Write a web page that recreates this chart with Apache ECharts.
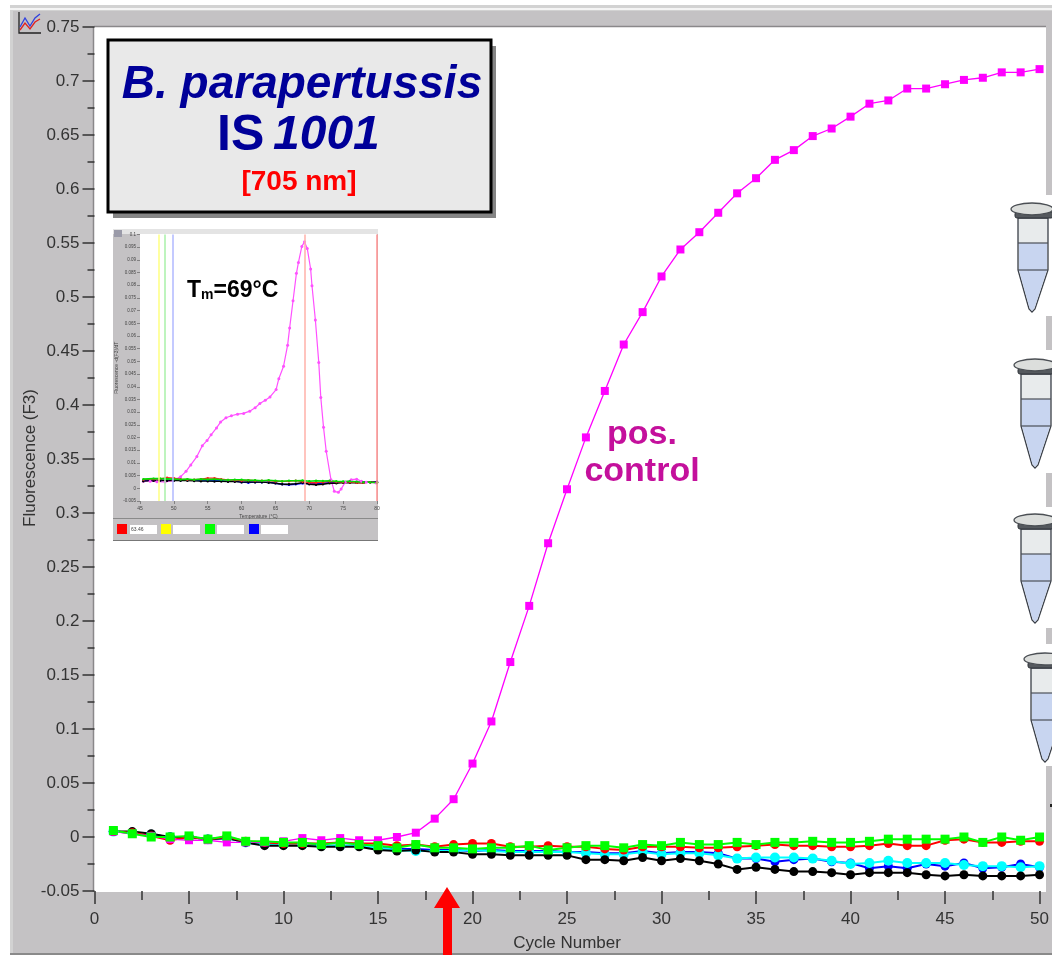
<!DOCTYPE html>
<html><head><meta charset="utf-8">
<style>html,body{margin:0;padding:0;background:#fff;overflow:hidden}#c{width:1052px;height:959px}</style>
<script src="https://cdn.jsdelivr.net/npm/echarts@6/dist/echarts.min.js"></script>
</head><body><div id="c"></div>
<script>
const cycles=[1,2,3,4,5,6,7,8,9,10,11,12,13,14,15,16,17,18,19,20,21,22,23,24,25,26,27,28,29,30,31,32,33,34,35,36,37,38,39,40,41,42,43,44,45,46,47,48,49,50];
const posControl=[.005,.003,.001,-.002,-.003,-.003,-.005,-.005,-.005,-.004,-.001,-.003,-.001,-.003,-.003,0,.004,.017,.035,.068,.107,.162,.214,.272,.322,.370,.413,.456,.486,.519,.544,.560,.578,.596,.610,.627,.636,.649,.656,.667,.679,.682,.693,.693,.697,.701,.703,.708,.708,.711];
const greenVals=[.006,.003,0,0,.001,-.002,.001,-.004,-.004,-.005,-.005,-.007,-.005,-.007,-.008,-.010,-.007,-.010,-.010,-.011,-.010,-.010,-.008,-.012,-.010,-.008,-.008,-.010,-.007,-.008,-.005,-.007,-.007,-.005,-.007,-.005,-.005,-.004,-.005,-.005,-.004,-.002,-.002,-.002,-.002,0,-.005,0,-.003,0];
const redVals=[.005,.004,.001,-.003,0,-.002,0,-.004,-.005,-.006,-.006,-.006,-.005,-.006,-.006,-.008,-.007,-.009,-.007,-.006,-.006,-.009,-.009,-.008,-.009,-.009,-.011,-.012,-.009,-.009,-.009,-.010,-.010,-.009,-.008,-.007,-.008,-.008,-.009,-.009,-.008,-.006,-.008,-.008,-.003,-.002,-.005,-.005,-.004,-.004];
const blackVals=[.005,.005,.003,0,0,-.002,-.001,-.005,-.008,-.008,-.008,-.009,-.009,-.009,-.012,-.013,-.012,-.014,-.014,-.016,-.016,-.017,-.017,-.017,-.017,-.021,-.021,-.022,-.019,-.022,-.020,-.022,-.025,-.030,-.028,-.030,-.032,-.032,-.033,-.035,-.033,-.033,-.033,-.035,-.036,-.035,-.036,-.036,-.036,-.035];
const blueVals=[.005,.004,.002,0,0,-.002,-.001,-.005,-.007,-.007,-.007,-.008,-.008,-.008,-.010,-.011,-.011,-.012,-.012,-.013,-.012,-.013,-.013,-.013,-.014,-.014,-.015,-.015,-.013,-.015,-.014,-.014,-.015,-.020,-.020,-.023,-.021,-.020,-.023,-.024,-.029,-.027,-.029,-.025,-.027,-.024,-.029,-.028,-.025,-.028];
const cyanVals=[.005,.004,.002,0,0,-.002,-.001,-.005,-.007,-.007,-.007,-.008,-.008,-.008,-.010,-.012,-.013,-.013,-.013,-.012,-.013,-.014,-.014,-.014,-.014,-.015,-.016,-.016,-.014,-.016,-.015,-.015,-.017,-.020,-.019,-.019,-.019,-.020,-.022,-.025,-.024,-.022,-.024,-.024,-.024,-.026,-.027,-.027,-.028,-.027];
const meltTemp=[45.5,46.5,47.5,48.7,49.9,51.0,51.8,52.5,53.4,54.2,54.9,55.5,56.3,56.9,57.7,58.5,59.4,60.3,61.2,62.0,62.7,63.5,64.2,65.1,65.5,66.2,66.8,67.1,67.6,68.1,68.4,68.9,69.3,69.7,70.2,70.4,70.9,71.4,71.7,72.1,72.5,73.2,73.7,74.3,74.7,75.3,76.2,77.0,77.7,78.4,79.9];
const meltPos=[.0028,.0028,.0026,.0025,.0030,.0046,.0067,.0092,.0125,.0168,.0188,.0211,.0238,.0261,.0278,.0286,.0292,.0295,.0304,.0317,.0334,.0347,.0360,.0389,.0432,.0481,.0564,.0632,.0739,.0847,.0890,.0953,.0971,.0945,.0864,.0798,.0663,.0496,.0358,.0241,.0146,.0034,-.0012,-.0016,-.0003,.0024,.0034,.0036,.0028,.0024,.0021];
const meltFlatTemp=[45.5,47,48,49,50,51,52,53,54,55,56,57,58,59,60,61,62,63,64,65,66,67,68,69,70,71,72,73,74,75,76,77,78,79,80];
const meltGreen=[.0036,.0038,.0038,.0037,.0036,.0035,.0036,.0034,.0036,.0035,.0036,.0034,.0033,.0034,.0034,.0032,.0032,.0030,.0032,.0030,.0028,.0030,.0030,.0031,.0028,.0030,.0029,.0030,.0028,.0027,.0028,.0026,.0024,.0024,.0022];
const meltRed=[.0034,.0036,.0037,.0042,.0040,.0036,.0034,.0034,.0036,.0040,.0040,.0036,.0033,.0032,.0030,.0032,.0030,.0030,.0030,.0027,.0027,.0028,.0030,.0026,.0022,.0022,.0024,.0027,.0025,.0024,.0024,.0022,.0022,.0024,.0022];
const meltBlack=[.0028,.0030,.0031,.0030,.0030,.0030,.0030,.0029,.0028,.0028,.0027,.0027,.0026,.0026,.0024,.0025,.0024,.0024,.0022,.0020,.0016,.0016,.0018,.0022,.0016,.0014,.0016,.0020,.0020,.0022,.0022,.0022,.0022,.0024,.0024];
const meltBlue=[.0030,.0032,.0032,.0032,.0032,.0032,.0032,.0031,.0030,.0030,.0030,.0030,.0028,.0028,.0024,.0022,.0024,.0024,.0024,.0020,.0016,.0014,.0016,.0020,.0018,.0018,.0020,.0022,.0024,.0024,.0024,.0024,.0024,.0024,.0026];
const meltMarkers=[47.7,48.7,49.9,69.4,80];
const meltMarkerColors=['#ffff80','#a8f0a8','#b0b8ff','#ffb0a8','#ff9090'];

const zip=(a,b)=>a.map((v,i)=>[v,b[i]]);
const main=(name,vals,color,symbol,size,width)=>({name,type:'line',xAxisIndex:0,yAxisIndex:0,data:zip(cycles,vals),symbol,symbolSize:size,showSymbol:true,clip:false,
  lineStyle:{color,width},itemStyle:{color,opacity:1},animation:false,silent:true});
const melt=(name,xs,vals,color,size,width)=>({name,type:'line',xAxisIndex:1,yAxisIndex:1,data:zip(xs,vals),symbol:'circle',symbolSize:size,showSymbol:true,
  lineStyle:{color,width},itemStyle:{color},animation:false,silent:true,z:3});

const PANEL='#c4c2c4';
function tube(x,y){
  const s={stroke:'#4a4f58',lineWidth:1.2};
  return {type:'group',x,y,z:6,children:[
    {type:'polygon',z:6,shape:{points:[[8,16],[8,68],[19,107],[22,110],[25,107],[38,68],[38,16]]},style:{fill:'#e8ebec',stroke:'#3a3f48',lineWidth:1.3}},
    {type:'polygon',z:6,shape:{points:[[9,41],[37,41],[37,68],[24.5,106],[22,109],[19.5,106],[9,68]]},style:{fill:'#c8d5f0'}},
    {type:'line',z:7,shape:{x1:8,y1:41,x2:38,y2:41},style:s},
    {type:'line',z:7,shape:{x1:8,y1:68,x2:38,y2:68},style:s},
    {type:'rect',z:7,shape:{x:5,y:10,width:38,height:6,r:2},style:{fill:'#55595e',stroke:'#30343a',lineWidth:1}},
    {type:'ellipse',z:8,shape:{cx:22,cy:7,rx:21,ry:6},style:{fill:'#dcdedc',stroke:'#4b4f54',lineWidth:1.3}}
  ]};
}
const wrect=(x,y,w,h,fill,z)=>({type:'rect',z,shape:{x,y,width:w,height:h},style:{fill}});
const graphics=[
  wrect(10,5,1042,950,'#d2d2d2',-20),
  {type:'line',z:-19,shape:{x1:10,y1:9,x2:1052,y2:9},style:{stroke:'#f4f4f4',lineWidth:2}},
  wrect(13,11,1039,942,PANEL,-19),
  {type:'line',z:-19,shape:{x1:10,y1:954,x2:1052,y2:954},style:{stroke:'#8a8a8a',lineWidth:2}},
  wrect(94,27,952,865,'#ffffff',-18),
  {type:'line',z:-18,shape:{x1:94,y1:26.5,x2:1046,y2:26.5},style:{stroke:'#8a888a',lineWidth:1.5}},
  {type:'line',z:-18,shape:{x1:93.5,y1:27,x2:93.5,y2:892},style:{stroke:'#8a888a',lineWidth:1.5}},
  {type:'group',x:17,y:11,z:5,children:[
    {type:'polyline',z:5,shape:{points:[[2,1],[2,22],[24,22]]},style:{stroke:'#222',fill:null,lineWidth:1.3}},
    {type:'polyline',z:5,shape:{points:[[3,16],[8,7],[13,15],[18,7],[23,3]]},style:{stroke:'#3040e0',fill:null,lineWidth:1.3}},
    {type:'polyline',z:5,shape:{points:[[3,19],[8,12],[13,18],[18,11],[23,8]]},style:{stroke:'#e02020',fill:null,lineWidth:1.3}}
  ]},
  wrect(113,46,383,172,'#858585',10),
  {type:'rect',z:11,shape:{x:108,y:40,width:383,height:172},style:{fill:'#e9e9e9',stroke:'#000',lineWidth:3}},
  {type:'text',z:12,x:302,y:85,style:{text:'B. parapertussis',font:'italic bold 46px "Liberation Sans"',fill:'#000099',align:'center',verticalAlign:'middle'}},
  {type:'text',z:12,x:217,y:136,style:{text:'IS',font:'bold 50px "Liberation Sans"',fill:'#000099',align:'left',verticalAlign:'middle'}},
  {type:'text',z:12,x:273,y:136,style:{text:'1001',font:'italic bold 48px "Liberation Sans"',fill:'#000099',align:'left',verticalAlign:'middle'}},
  {type:'text',z:12,x:299,y:182,style:{text:'[705 nm]',font:'bold 28px "Liberation Sans"',fill:'#ff0000',align:'center',verticalAlign:'middle'}},
  {type:'text',z:12,x:642,y:435,style:{text:'pos.',font:'bold 34px "Liberation Sans"',fill:'#c4109c',align:'center',verticalAlign:'middle'}},
  {type:'text',z:12,x:642,y:472,style:{text:'control',font:'bold 34px "Liberation Sans"',fill:'#c4109c',align:'center',verticalAlign:'middle'}},
  {type:'text',z:5,x:30,y:458,rotation:Math.PI/2,style:{text:'Fluorescence (F3)',font:'17px "Liberation Sans"',fill:'#333',align:'center',verticalAlign:'middle'}},
  {type:'polygon',z:12,shape:{points:[[447,887],[460,908],[452,908],[452,955],[443,955],[443,908],[434,908]]},style:{fill:'#ff0000'}},
  wrect(113,229,265,312,PANEL,-5),
  wrect(113,229,265,5,'#e4e4e4',-4),
  wrect(140,234,237,267,'#ffffff',-4),
  {type:'line',z:-4,shape:{x1:113,y1:540.5,x2:378,y2:540.5},style:{stroke:'#777',lineWidth:1}},
  {type:'line',z:-4,shape:{x1:113,y1:518.5,x2:378,y2:518.5},style:{stroke:'#8a8a8a',lineWidth:1}},
  wrect(114,230,8,7,'#9a9aa8',-3),
  wrect(117,524,10,10,'#ff0000',1),wrect(130,525,27,9,'#fff',1),
  wrect(161,524,10,10,'#ffff00',1),wrect(173,525,27,9,'#fff',1),
  wrect(205,524,10,10,'#00ff00',1),wrect(217,525,27,9,'#fff',1),
  wrect(249,524,10,10,'#0000ff',1),wrect(261,525,27,9,'#fff',1),
  {type:'text',z:2,x:131,y:530,style:{text:'63.46',font:'5px "Liberation Sans"',fill:'#444',verticalAlign:'middle'}},
  {type:'text',z:12,x:187,y:290,style:{text:'{a|T}{b|m}{a|=69°C}',rich:{a:{font:'bold 23px "Liberation Sans"',fill:'#000',verticalAlign:'bottom',lineHeight:24},b:{font:'bold 14px "Liberation Sans"',fill:'#000',verticalAlign:'bottom',lineHeight:16}},verticalAlign:'middle'}},
  wrect(1004,195,48,121,'#ffffff',5),
  wrect(1004,350,48,123,'#ffffff',5),
  wrect(1004,507,48,121,'#ffffff',5),
  wrect(1012,644,40,122,'#ffffff',5),
  tube(1010,202),tube(1013,358),tube(1013,513),tube(1023,652),
  wrect(1050,804,2,3,'#222',6)
];

const chart=echarts.init(document.getElementById('c'),null,{renderer:'canvas'});
chart.setOption({
  animation:false,backgroundColor:'#ffffff',
  grid:[{left:94.5,top:27,width:948.5,height:864,containLabel:false},
        {left:140,top:234.5,width:237,height:266.5}],
  xAxis:[
   {gridIndex:0,type:'value',min:0,max:50,interval:5,name:'Cycle Number',nameLocation:'middle',nameGap:44,
    nameTextStyle:{fontFamily:'Liberation Sans',fontSize:17,color:'#333'},
    axisLine:{show:false,onZero:false},splitLine:{show:false},
    axisTick:{length:13,lineStyle:{color:'#333',width:1.5}},
    minorTick:{show:true,splitNumber:2,length:9,lineStyle:{color:'#333',width:1.5}},minorSplitLine:{show:false},
    axisLabel:{fontFamily:'Liberation Sans',fontSize:17,color:'#333',margin:20}},
   {gridIndex:1,type:'value',min:45,max:80,interval:5,name:'Temperature (°C)',nameLocation:'middle',nameGap:13,
    nameTextStyle:{fontFamily:'Liberation Sans',fontSize:5,color:'#444'},
    axisLine:{show:false,onZero:false},splitLine:{show:false},
    axisTick:{length:3,lineStyle:{color:'#555',width:.6}},
    axisLabel:{fontFamily:'Liberation Sans',fontSize:5,color:'#444',margin:5}}
  ],
  yAxis:[
   {gridIndex:0,type:'value',min:-0.05,max:0.75,interval:0.05,
    axisLine:{show:false,onZero:false},splitLine:{show:false},
    axisTick:{length:12,lineStyle:{color:'#333',width:1.5}},
    minorTick:{show:true,splitNumber:2,length:7,lineStyle:{color:'#333',width:1.5}},minorSplitLine:{show:false},
    axisLabel:{fontFamily:'Liberation Sans',fontSize:17,color:'#333',margin:15}},
   {gridIndex:1,type:'value',min:-0.005,max:0.1,interval:0.005,name:'Fluorescence -d(F3)/dT',nameLocation:'middle',nameGap:21,
    nameTextStyle:{fontFamily:'Liberation Sans',fontSize:5,color:'#444'},
    axisLine:{show:false,onZero:false},splitLine:{show:false},
    axisTick:{length:3,lineStyle:{color:'#555',width:.6}},
    axisLabel:{fontFamily:'Liberation Sans',fontSize:4.5,color:'#444',margin:4}}
  ],
  series:[
    main('Blue',blueVals,'#0000ff','circle',9,2),
    main('Cyan',cyanVals,'#00ffff','circle',10,2),
    main('Black',blackVals,'#000000','circle',9,2),
    main('Red',redVals,'#ff0000','circle',9,2),
    main('Positive control',posControl,'#ff00ff','rect',8,1.3),
    main('Green',greenVals,'#00ff00','rect',9,2),
    {type:'line',xAxisIndex:1,yAxisIndex:1,data:[],silent:true,
     markLine:{silent:true,symbol:'none',label:{show:false},animation:false,
       data:meltMarkers.map((t,i)=>({xAxis:t,lineStyle:{color:meltMarkerColors[i],width:1.5,type:'solid'}}))}},
    melt('Melt pos',meltTemp,meltPos,'#ff50ff',3,1.2),
    melt('Melt blue',meltFlatTemp,meltBlue,'#0000ff',2.4,1.3),
    melt('Melt black',meltFlatTemp,meltBlack,'#000000',2.4,1.3),
    melt('Melt red',meltFlatTemp,meltRed,'#ff2020',2.4,1.3),
    melt('Melt green',meltFlatTemp,meltGreen,'#00e000',2.4,1.6)
  ],
  graphic:{elements:graphics}
});
</script></body></html>
